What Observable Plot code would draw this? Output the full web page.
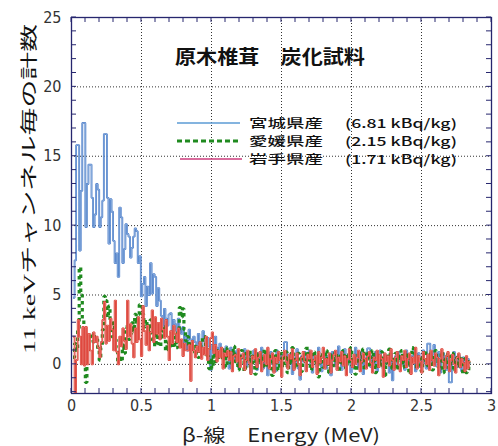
<!DOCTYPE html>
<html><head><meta charset="utf-8">
<script src="https://cdn.jsdelivr.net/npm/d3@7"></script>
<script src="https://cdn.jsdelivr.net/npm/@observablehq/plot@0.6"></script>
<style>body{margin:0;background:#fff} svg{display:block}</style>
</head><body><div id="chart"></div>
<script>
const channelWidth = 0.011; // MeV (11 keV channels)

const miyagi = [
4.8, 7.5, 15.8, 15.8, 8.2, 12.5, 17.4, 17.4, 9.9, 13.0,
14.4, 14.4, 12.0, 9.9, 10.8, 13.0, 12.6, 9.9, 10.6, 11.8,
16.6, 16.6, 12.0, 8.7, 11.9, 11.0, 8.9, 7.3, 8.0, 6.3,
11.3, 10.6, 7.3, 8.3, 10.1, 9.4, 9.2, 7.7, 8.4, 9.2,
9.8, 9.6, 7.3, 7.8, 4.9, 5.8, 6.3, 4.2, 5.6, 5.0,
7.3, 5.1, 6.5, 6.3, 4.2, 5.5, 4.6, 3.5, 2.7, 4.0,
3.3, 2.8, 3.6, 3.7, 2.4, 3.2, 2.9, 2.4, 3.3, 2.6,
2.2, 2.7, 1.5, 2.0, 1.0, 2.5, 1.8, 1.3, 2.0, 1.6,
1.2, 2.2, 1.5, 1.0, 2.4, 1.7, 1.1, 1.9, 1.3, -0.4,
1.4, 1.0, 2.0, 1.2, 0.6, 1.5, 0.9, 1.1, 0.4, 1.3,
0.8, -0.3, 1.2, 0.5, 0.9, 0.3, 1.0, -0.2, 0.7, 0.4,
0.6, 1.1, -0.2, 0.3, 0.9, -0.6, 0.5, 1.0, 0.2, -0.4,
0.8, 0.1, 1.2, -0.3, 0.4, 0.7, -0.8, 0.3, 0.9, 0.0,
0.5, -0.5, 1.0, 0.2, -0.1, 0.7, 0.4, 1.6, 1.6, -0.2,
0.3, 0.8, -0.7, 0.5, 0.1, 1.1, -0.3, -1.1, 0.6, 0.2,
0.9, -0.4, 0.4, 1.0, 0.0, -0.6, 0.7, 0.3, -0.2, 1.2,
0.5, -0.5, 0.2, 0.8, -0.3, 0.6, 0.1, -0.8, 0.9, 0.4,
-0.1, 0.7, 1.3, 0.2, -0.4, 0.5, 1.1, -0.2, 0.3, 0.8,
-0.6, 0.4, 0.0, 1.2, 0.6, -0.3, 0.9, 0.2, -0.7, 0.5,
0.3, 1.15, 1.15, -0.2, 0.6, 0.0, 0.9, -0.5, 0.4, 1.0,
0.2, -0.3, 0.7, 0.1, 0.5, -0.6, 0.8, -1.15, 0.3, 0.6,
-0.2, 0.9, 0.4, 0.0, 0.7, -0.4, 1.0, 0.3, -0.1, 0.6,
0.2, 1.1, -0.5, 0.5, 0.8, -0.2, 0.4, 1.0, 0.1, -0.3,
1.5, 1.5, 0.2, 0.7, 1.4, -0.1, 0.5, 0.9, -0.6, 0.3,
0.8, 0.0, -0.4, 0.6, -1.3, -1.3, 0.4, 0.9, 0.1, -0.2,
0.7, 0.3, -0.5, 0.5, 0.2, -0.3, 0.4, 0.1
];

const ehime = [
0.5, 1.5, 1.0, 2.5, 7.0, 5.0, 3.2, 0.5, -1.3, 1.0,
2.0, 2.0, 2.2, 1.6, 2.0, 1.8, 1.0, 0.3, 1.2, 2.5,
4.9, 4.6, 3.4, 4.2, 3.2, 2.0, 3.0, 1.8, 1.2, 0.2,
0.6, 0.2, 1.5, 0.8, 2.7, 2.4, 1.8, 2.2, 3.0, 2.4,
3.6, 3.0, 3.6, 4.3, 4.3, 3.6, 2.7, 3.2, 2.7, 1.7,
3.2, 2.5, 1.7, 1.3, 2.2, 1.5, 1.3, 2.7, 2.0, 2.7,
1.0, 1.6, 1.0, 2.0, 1.5, 1.2, 2.2, 1.2, 2.5, 4.1,
3.4, 4.0, 2.5, 1.7, 2.0, 1.2, 1.6, 1.2, 0.8, 1.3,
0.8, 0.5, 1.0, 1.4, 2.0, 2.0, 1.2, 0.6, -0.3, 0.4,
-0.3, 0.8, 0.2, 1.0, 0.5, 0.5, 1.1, 0.3, 0.9, -0.2,
1.2, 0.6, 0.1, 0.8, 1.3, 0.2, 0.7, -0.4, 0.5, 1.0,
0.3, -0.5, 0.8, 0.4, 1.0, -0.2, 0.6, 0.1, -0.7, 0.9,
0.5, 0.0, 0.7, -0.3, 1.1, 0.4, -0.1, 0.6, 0.2, -0.8,
0.7, 1.0, 0.1, -0.4, 0.5, 0.8, -0.2, 0.3, 0.9, -0.6,
0.4, 0.0, 1.2, 0.6, -0.3, 0.2, 0.8, 0.4, -0.5, 0.6,
0.1, 1.15, 1.15, 0.3, -0.4, 0.7, 0.9, 0.0, 0.5, -0.9,
0.4, 0.8, -0.2, 0.3, 1.0, 0.2, -0.6, 0.5, 0.7, -0.1,
0.9, 0.3, -0.5, 0.6, 0.1, 1.0, 0.4, -0.3, 0.8, 0.2,
1.2, -0.1, 0.5, -0.7, 0.6, 0.9, 0.0, 0.4, 1.1, -0.4,
0.3, 0.8, -0.2, 0.5, 1.0, 0.2, -0.6, 0.7, 0.4, -0.1,
0.9, 0.3, -0.8, 0.6, 0.1, 1.1, 0.5, -0.3, 0.2, 0.8,
-0.4, 0.6, 0.3, 1.0, -0.2, 0.5, 0.0, 0.8, -0.7, 0.4,
1.2, 0.9, 0.1, -0.3, 0.6, 0.3, -0.5, 0.7, 1.0, 0.2,
-0.1, 0.5, 0.8, -0.4, 0.3, 1.0, 0.6, -0.2, 0.4, 0.9,
-0.6, 0.2, 0.7, 0.0, -0.3, 0.6, 0.8, -0.5, 0.3, 0.5,
-0.2, 0.6, 0.1, -0.7, 0.4, -0.6, 0.2, -0.3
];

const iwate = [
2.0, -2.3, 0.3, 3.2, 2.0, 0.0, 2.7, -0.1, 2.7, 0.0,
2.2, 1.0, 0.0, 2.3, 1.6, 2.0, 1.2, 0.5, 1.6, 3.2,
4.5, 1.5, 2.8, 1.7, 3.3, 2.5, 1.0, 4.6, 0.9, 0.0,
2.0, 1.3, 2.6, 1.7, 1.1, 4.6, 2.0, 2.9, 1.5, 0.5,
2.6, 1.6, 3.4, 1.8, 0.6, 4.2, 2.4, 1.4, 2.8, 1.0,
2.3, 3.9, 1.6, 3.4, 2.2, 3.0, 1.8, 3.3, 2.5, 1.9,
3.2, 2.0, 0.3, 2.4, 1.5, 2.8, 2.2, 1.6, 2.6, 1.2,
1.8, 0.6, 1.5, 1.0, 1.0, 1.4, -1.2, 1.7, 1.0, 0.5,
1.3, 0.9, 1.6, 0.4, 1.2, 0.7, 2.0, 0.3, 1.1, 1.9,
2.3, 0.8, 1.4, 0.2, 1.0, 0.5, 1.2, -0.3, 0.8, 0.6,
1.0, 0.3, 0.9, -0.5, 0.6, 0.7, 0.2, 1.1, -0.2, 0.5,
0.8, -0.4, 0.3, 1.0, 0.1, -0.7, 0.6, 0.4, 1.1, -0.2,
0.5, 0.9, -0.5, 0.2, 0.7, 0.0, 1.2, -0.3, 0.4, 0.8,
-0.6, 0.5, 0.1, 0.9, 0.3, -0.9, 0.6, 1.0, 0.2, -0.3,
0.7, 0.4, 1.1, -0.4, 0.3, 0.8, 0.0, -0.8, 0.5, 0.9,
0.2, -0.5, 0.7, 0.4, 1.0, -0.2, 0.3, 0.6, -0.7, 0.9,
0.1, 0.5, 1.2, -0.3, 0.4, 0.0, 0.8, -0.6, 0.3, 0.7,
1.0, -0.4, 0.5, 0.2, 0.9, -0.1, 0.6, -0.8, 0.4, 1.1,
0.3, -0.2, 0.7, 0.0, 0.5, 1.0, -0.5, 0.2, 0.8, 0.4,
-0.3, 0.6, 0.9, 0.1, -0.6, 0.5, 0.3, 1.0, -0.2, 0.7,
0.4, -0.9, 0.8, 0.2, 0.6, -0.1, 1.1, 0.3, -0.4, 0.5,
0.9, 0.0, -0.5, 0.6, 0.3, 1.0, -0.2, 0.4, 0.8, -0.7,
0.5, 0.1, 1.2, -0.3, 0.6, 0.2, -0.6, 0.9, 0.4, 0.0,
0.7, -0.4, 1.0, 0.3, -0.1, 0.8, 0.5, -0.8, 0.4, 1.1,
0.2, -0.3, 0.6, 0.9, -0.5, 0.3, 0.7, 0.0, -0.6, 0.5,
0.8, -0.2, 0.4, 0.1, -0.5, 0.6, -0.3, 0.2
];

const seriesNames = ["宮城県産", "愛媛県産", "岩手県産"];
const seriesActivity = ["(6.81 kBq/kg)", "(2.15 kBq/kg)", "(1.71 kBq/kg)"];
const xTicks = [0, 0.5, 1, 1.5, 2, 2.5, 3];
const xTickLabels = ["0", "0.5", "1", "1.5", "2", "2.5", "3"];
const yTicks = [0, 5, 10, 15, 20, 25];
const yTickLabels = ["0", "5", "10", "15", "20", "25"];
const titleText = "原木椎茸　炭化試料";
const xLabelText = "β-線　Energy (MeV)";
const yLabelText = "11 keVチャンネル毎の計数";

function toSteps(values) {
  const pts = values.map((v, i) => ({x: (i + 1) * channelWidth, y: v}));
  pts.push({x: (values.length + 1) * channelWidth, y: values[values.length - 1]});
  return pts;
}
const blueSteps = toSteps(miyagi);
const greenSteps = toSteps(ehime);
const redSteps = toSteps(iwate);

const frameColor = "#26266e";
const tickFont = "'Liberation Sans Narrow','DejaVu Sans Condensed','Liberation Sans',sans-serif";
const lineOpts = {x: "x", y: "y", curve: "step-after", clip: true, strokeLinecap: "butt", strokeLinejoin: "miter"};

const plot = Plot.plot({
  width: 498, height: 446,
  marginLeft: 71, marginRight: 7, marginTop: 17, marginBottom: 53,
  x: {domain: [0, 3], axis: null},
  y: {domain: [-2.1, 25], axis: null},
  style: {background: "#fff"},
  marks: [
    Plot.ruleX(xTicks.slice(1, -1), {stroke: "#333", strokeWidth: 1, strokeDasharray: "1,2"}),
    Plot.ruleY(yTicks.slice(0, -1), {stroke: "#333", strokeWidth: 1, strokeDasharray: "1,2"}),
    Plot.line(blueSteps, {...lineOpts, stroke: "#3f74c6", strokeWidth: 1.8}),
    Plot.line(blueSteps, {...lineOpts, stroke: "#b3cdea", strokeWidth: 0.6}),
    Plot.line(greenSteps, {...lineOpts, stroke: "#1f8a1f", strokeWidth: 3.2, strokeDasharray: "3.5,3.5"}),
    Plot.line(redSteps, {...lineOpts, stroke: "#dc2a20", strokeWidth: 1.7}),
    Plot.line(redSteps, {...lineOpts, stroke: "#eba59c", strokeWidth: 0.6}),
    Plot.frame({stroke: frameColor, strokeWidth: 1.3}),
    Plot.text(xTicks, {x: d => d, frameAnchor: "bottom", dy: 17, text: (d, i) => xTickLabels[i],
      fontSize: 16, fill: "#333", fontFamily: tickFont}),
    Plot.text(yTicks, {y: d => d, frameAnchor: "left", dx: -10, textAnchor: "end", text: (d, i) => yTickLabels[i],
      fontSize: 16, fill: "#333", fontFamily: tickFont})
  ]
});

document.getElementById("chart").appendChild(plot);

const sx = plot.scale("x"), sy = plot.scale("y");
const svg = d3.select(plot);
const [xl, xr] = sx.range;
const [yb, yt] = sy.range;

// inward minor ticks
const xMinor = d3.range(0, 31).map(i => i / 10);
const yMinor = d3.range(-2, 26);
const tg = svg.append("g").attr("stroke", frameColor).attr("stroke-width", 1);
xMinor.forEach(v => {
  const px = sx.apply(v);
  tg.append("line").attr("x1", px).attr("x2", px).attr("y1", yb).attr("y2", yb - 5);
  tg.append("line").attr("x1", px).attr("x2", px).attr("y1", yt).attr("y2", yt + 5);
});
yMinor.forEach(v => {
  const py = sy.apply(v);
  if (py > yb || py < yt) return;
  tg.append("line").attr("x1", xl).attr("x2", xl + 5).attr("y1", py).attr("y2", py);
  tg.append("line").attr("x1", xr).attr("x2", xr - 5).attr("y1", py).attr("y2", py);
});

// title
svg.append("text").attr("x", 270).attr("y", 64).attr("text-anchor", "middle")
  .attr("font-family", "'Noto Sans CJK JP',sans-serif").attr("font-weight", "bold")
  .attr("font-size", 19).attr("fill", "#111")
  .attr("textLength", 190).attr("lengthAdjust", "spacingAndGlyphs").text(titleText);

// legend
const legendY = [123, 141, 159];
const lg = svg.append("g").attr("text-anchor", "start");
lg.append("line").attr("x1", 177).attr("x2", 240).attr("y1", legendY[0]).attr("y2", legendY[0])
  .attr("stroke", "#5b9bd5").attr("stroke-width", 1.3);
lg.append("line").attr("x1", 177).attr("x2", 240).attr("y1", legendY[1]).attr("y2", legendY[1])
  .attr("stroke", "#1f8a1f").attr("stroke-width", 3.2).attr("stroke-dasharray", "5,3");
lg.append("line").attr("x1", 180).attr("x2", 242).attr("y1", legendY[2]).attr("y2", legendY[2])
  .attr("stroke", "#cc3d7d").attr("stroke-width", 1.3);
seriesNames.forEach((name, i) => {
  lg.append("text").attr("x", 249).attr("y", legendY[i] + 5).attr("text-anchor", "start")
    .attr("font-family", "'Noto Sans CJK JP',sans-serif").attr("font-size", 12.5).attr("font-weight", 500).attr("fill", "#111")
    .attr("textLength", 74).attr("lengthAdjust", "spacingAndGlyphs").text(name);
  lg.append("text").attr("x", 345).attr("y", legendY[i] + 5).attr("text-anchor", "start")
    .attr("font-family", "'Noto Sans CJK JP',sans-serif").attr("font-size", 12.5).attr("font-weight", 500).attr("fill", "#111")
    .attr("textLength", 112).attr("lengthAdjust", "spacingAndGlyphs").text(seriesActivity[i]);
});

// axis labels
svg.append("text").attr("x", 281).attr("y", 442).attr("text-anchor", "middle")
  .attr("font-family", "'Noto Sans CJK JP',sans-serif").attr("font-size", 18).attr("fill", "#222")
  .attr("textLength", 198).attr("lengthAdjust", "spacingAndGlyphs").text(xLabelText);
svg.append("text").attr("transform", "translate(35,189) rotate(-90)").attr("text-anchor", "middle")
  .attr("font-family", "'Liberation Serif','Noto Sans CJK JP',serif").attr("font-size", 17).attr("fill", "#111")
  .attr("textLength", 330).attr("lengthAdjust", "spacingAndGlyphs").text(yLabelText);
</script>
</body></html>
